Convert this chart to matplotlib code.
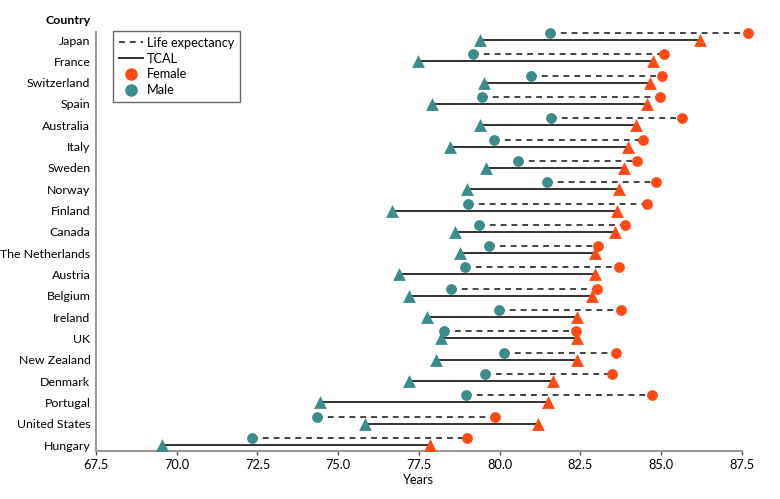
import matplotlib
matplotlib.use("Agg")
import matplotlib.pyplot as plt
from matplotlib.lines import Line2D
from matplotlib import font_manager
import numpy as np

names = {f.name for f in font_manager.fontManager.ttflist}
fam = [f for f in ['Liberation Sans Narrow', 'DejaVu Sans Condensed', 'Lato', 'Roboto'] if f in names]
plt.rcParams['font.family'] = fam + ['DejaVu Sans']

countries = ["Japan", "France", "Switzerland", "Spain", "Australia", "Italy", "Sweden",
             "Norway", "Finland", "Canada", "The Netherlands", "Austria", "Belgium",
             "Ireland", "UK", "New Zealand", "Denmark", "Portugal", "United States", "Hungary"]
le_male = [81.56, 79.17, 80.98, 79.45, 81.6, 79.83, 80.58, 81.46, 79.01, 79.35, 79.66,
           78.92, 78.51, 79.98, 78.29, 80.13, 79.55, 78.95, 74.35, 72.32]
le_female = [87.7, 85.1, 85.03, 84.97, 85.65, 84.43, 84.26, 84.86, 84.58, 83.88, 83.05,
             83.69, 83.03, 83.76, 82.36, 83.6, 83.47, 84.73, 79.86, 79.0]
tcal_male = [79.4, 77.46, 79.53, 77.9, 79.4, 78.47, 79.59, 78.98, 76.66, 78.63, 78.76,
             76.89, 77.19, 77.74, 78.19, 78.03, 77.21, 74.44, 75.83, 69.55]
tcal_female = [86.2, 84.74, 84.66, 84.58, 84.23, 83.99, 83.85, 83.71, 83.64, 83.58, 82.96,
               82.96, 82.87, 82.4, 82.39, 82.39, 81.64, 81.49, 81.2, 77.83]
xticks = [67.5, 70.0, 72.5, 75.0, 77.5, 80.0, 82.5, 85.0, 87.5]

FEMALE = '#FF4A14'
MALE = '#3B8C8B'

fig = plt.figure(figsize=(7.8, 4.99), dpi=100)
ax = fig.add_axes([0.1231, 0.0962, 0.8278, 0.8403])

FS = 9.2
FSY = 8.9

n = len(countries)
ypos = np.arange(n)[::-1]
off = 0.33

for i in range(n):
    y = ypos[i]
    ax.plot([le_male[i], le_female[i]], [y + off, y + off], color='#222222', lw=1.2,
            ls=(0, (3.5, 3)), zorder=1, clip_on=False)
    ax.plot([tcal_male[i], tcal_female[i]], [y, y], color='#222222', lw=1.3, zorder=1,
            clip_on=False)

ax.scatter(le_male, ypos + off, s=60, color=MALE, marker='o', zorder=3, linewidths=0, clip_on=False)
ax.scatter(le_female, ypos + off, s=60, color=FEMALE, marker='o', zorder=3, linewidths=0, clip_on=False)
ax.scatter(tcal_male, ypos, s=85, color=MALE, marker='^', zorder=3, linewidths=0, clip_on=False)
ax.scatter(tcal_female, ypos, s=85, color=FEMALE, marker='^', zorder=3, linewidths=0, clip_on=False)

ax.set_xlim(67.5, 87.5)
ax.set_ylim(-0.28, n - 1 + 0.39)
ax.set_xticks(xticks)
ax.set_xticklabels([f"{t:.1f}" for t in xticks], fontsize=FS)
ax.set_yticks(ypos)
ax.set_yticklabels(countries, fontsize=FSY)
ax.tick_params(axis='y', length=0, pad=4)
ax.tick_params(axis='x', length=3, width=1, color='#555555', pad=3)
for s in ['top', 'right']:
    ax.spines[s].set_visible(False)
for s in ['left', 'bottom']:
    ax.spines[s].set_color('#999999')
    ax.spines[s].set_linewidth(1.5)
ax.set_xlabel("Years", fontsize=FS, labelpad=2)

fig.text(91 / 780, 1 - 21 / 499, "Country", ha='right', va='center',
         fontsize=FSY, fontweight='bold')

handles = [
    Line2D([0], [0], color='#222222', lw=1.2, ls=(0, (3.5, 3))),
    Line2D([0], [0], color='#222222', lw=1.3),
    Line2D([0], [0], color=FEMALE, marker='o', ls='none', markersize=8),
    Line2D([0], [0], color=MALE, marker='o', ls='none', markersize=8),
]
leg = ax.legend(handles, ["Life expectancy", "TCAL", "Female", "Male"],
                loc='upper left', bbox_to_anchor=(113 / 780, 1 - 31 / 499),
                bbox_transform=fig.transFigure, fontsize=FS, frameon=True,
                fancybox=False, handlelength=1.9, handletextpad=0.3,
                labelspacing=0.3, borderpad=0.45, borderaxespad=0)
leg.get_frame().set_edgecolor('#444444')
leg.get_frame().set_linewidth(1.0)

fig.savefig("out.png", dpi=100)
